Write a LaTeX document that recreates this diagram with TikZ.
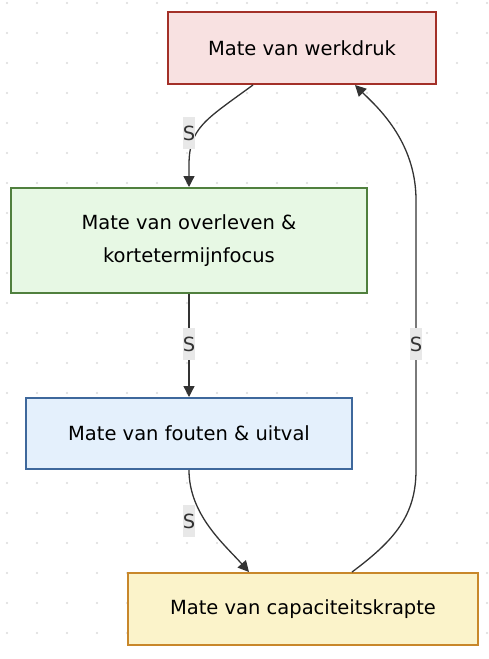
\documentclass[tikz,border=0pt]{standalone}
\usepackage{fontspec}
\setmainfont{DejaVu Sans}
\usepackage{tikz}
\usetikzlibrary{arrows.meta}
\definecolor{redfill}{RGB}{248,225,225}
\definecolor{reddraw}{RGB}{163,48,40}
\definecolor{greenfill}{RGB}{231,248,228}
\definecolor{greendraw}{RGB}{80,128,62}
\definecolor{bluefill}{RGB}{228,240,252}
\definecolor{bluedraw}{RGB}{62,104,156}
\definecolor{yellowfill}{RGB}{251,243,202}
\definecolor{yellowdraw}{RGB}{200,135,42}
\definecolor{edgegray}{RGB}{51,51,51}
\definecolor{dotgray}{RGB}{218,218,218}
\tikzset{box/.style={draw,line width=2pt,rectangle,text=black,align=center,
                     font=\fontsize{19.5}{33}\selectfont}}
\tikzset{elabel/.style={fill={rgb,255:red,232;green,232;blue,232},text=edgegray,
                        inner sep=0pt,minimum width=11pt,minimum height=32pt,
                        font=\fontsize{19.5}{24}\selectfont}}

\begin{document}
\begin{tikzpicture}[x=1pt,y=-1pt]
    \tikzstyle{edge}=[draw=edgegray,line width=1.3pt,-{Triangle[length=11pt,width=11pt]}]
    \useasboundingbox (0,0) rectangle (489,659);

    % Draw the dotted background
    \foreach \x in {7,37,...,487}
        \foreach \y in {3,33,...,657}
            \fill[dotgray] (\x,\y) circle (1.2pt);

    % Draw the boxes
    \node[box,fill=redfill,draw=reddraw,minimum width=268pt,minimum height=72pt]
        (werk) at (302,48) {Mate van werkdruk};
    \node[box,fill=greenfill,draw=greendraw,minimum width=356pt,minimum height=105pt]
        (overl) at (189,240.5) {Mate van overleven \&\\kortetermijnfocus};
    \node[box,fill=bluefill,draw=bluedraw,minimum width=326pt,minimum height=71pt]
        (fout) at (189,433.5) {Mate van fouten \& uitval};
    \node[box,fill=yellowfill,draw=yellowdraw,minimum width=350pt,minimum height=72pt]
        (krapte) at (303,609) {Mate van capaciteitskrapte};

    % Connect the boxes
    \draw[edge] ([xshift=-49pt]werk.south) .. controls (205,120) and (189,128) .. (189,165)
        -- (overl.north);
    \draw[edge] (overl.south) -- (fout.north);
    \draw[edge] (fout.south) .. controls (189,515) and (225,545) .. ([xshift=-54pt]krapte.north);
    \draw[edge] ([xshift=49pt]krapte.north) .. controls (395,540) and (416,515) .. (416,470)
        -- (416,200) .. controls (416,140) and (375,105) .. ([xshift=53pt]werk.south);

    % Edge labels
    \node[elabel] (s1) at (189,133) {S};
    \node[elabel] (s2) at (189,344) {S};
    \node[elabel] (s3) at (189,521) {S};
    \node[elabel] (s4) at (416,344) {S};
\end{tikzpicture}
\end{document}
